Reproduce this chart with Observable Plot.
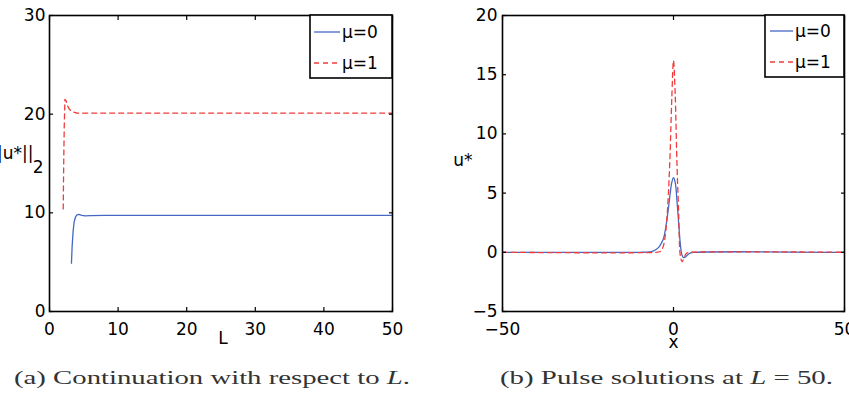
<!DOCTYPE html>
<html>
<head>
<meta charset="utf-8">
<script src="https://cdn.jsdelivr.net/npm/d3@7"></script>
<script src="https://cdn.jsdelivr.net/npm/@observablehq/plot@0.6"></script>
<style>
  body { margin: 0; background: #fff; }
  #fig { position: relative; width: 849px; height: 396px; overflow: hidden; background: #fff; }
  .panel { position: absolute; top: 0; }
  #captions { position: absolute; left: 0; top: 355px; }
</style>
</head>
<body>
<div id="fig">
  <div id="panelA" class="panel" style="left:0px"></div>
  <div id="panelB" class="panel" style="left:430px"></div>
  <svg id="captions" width="849" height="41"></svg>
</div>
<script>
// Series shared by both panels
const seriesNames = ["μ=0", "μ=1"];
const seriesColors = ["#4468c4", "#f03c3c"];
const seriesDash = [null, "5,4"];

// (a) continuation of the L2 norm of the pulse in the domain length L
const contL_mu0 = [3.2, 3.3, 3.45, 3.6, 3.8, 4.0, 4.3, 4.7, 5.2, 6, 8, 50];
const contNorm_mu0 = [4.9, 6.6, 8.2, 9.1, 9.6, 9.8, 9.85, 9.75, 9.7, 9.72, 9.75, 9.75];
const contL_mu1 = [2.0, 2.03, 2.08, 2.15, 2.25, 2.4, 2.6, 2.9, 3.3, 4, 50];
const contNorm_mu1 = [10.4, 12.5, 15.5, 18.8, 21.5, 21.4, 20.9, 20.5, 20.25, 20.1, 20.1];

// (b) pulse profiles u*(x) at L = 50
const pulseX_mu0 = [-50, -10, -7, -6, -5, -4, -3, -2.5, -2, -1.5, -1, -0.5, 0, 0.5, 1, 1.5, 2, 2.5, 3, 3.5, 4, 5, 6, 50];
const pulseU_mu0 = [0, 0, 0.03, 0.1, 0.25, 0.55, 1.1, 1.7, 2.6, 3.7, 4.9, 5.9, 6.3, 5.9, 4.4, 2.5, 0.7, -0.25, -0.45, -0.4, -0.25, -0.05, 0, 0];
const pulseX_mu1 = [-50, -5, -4, -3.5, -3, -2.5, -2, -1.5, -1, -0.5, 0, 0.5, 1, 1.5, 2, 2.5, 3, 3.5, 4, 5, 50];
const pulseU_mu1 = [0, 0, 0.05, 0.2, 0.5, 1.2, 2.6, 4.9, 8.3, 13.0, 16.2, 13.3, 7.6, 3.4, -0.3, -0.8, -0.55, -0.2, -0.05, 0, 0];

// Ticks
const contXTicks = [0, 10, 20, 30, 40, 50];
const contYTicks = [0, 10, 20, 30];
const pulseXTicks = [-50, 0, 50];
const pulseYTicks = [-5, 0, 5, 10, 15, 20];

// Captions
const captionA = ["(a) Continuation with respect to ", "L", "."];
const captionB = ["(b) Pulse solutions at ", "L", " = 50."];

const FONT = "DejaVu Sans";

function axisMarks(xTicks, yTicks, yPad) {
  return [
    Plot.axisX(xTicks, {anchor: "bottom", tickSize: 0, tickPadding: 11, label: null}),
    Plot.axisX(xTicks, {anchor: "bottom", tickSize: -4, tickFormat: () => "", label: null, strokeWidth: 1.2}),
    Plot.axisX(xTicks, {anchor: "top", tickSize: -4, tickFormat: () => "", label: null, strokeWidth: 1.2}),
    Plot.axisY(yTicks, {anchor: "left", tickSize: 0, tickPadding: yPad, label: null}),
    Plot.axisY(yTicks, {anchor: "left", tickSize: -4, tickFormat: () => "", label: null, strokeWidth: 1.2}),
    Plot.axisY(yTicks, {anchor: "right", tickSize: -4, tickFormat: () => "", label: null, strokeWidth: 1.2})
  ];
}

function seriesLines(xs, ys, curve) {
  return xs.map((xv, i) => Plot.line(xv, {
    x: xv, y: ys[i], stroke: seriesColors[i], strokeWidth: 1.3,
    strokeDasharray: seriesDash[i], curve
  }));
}

function addLegend(svg, plot, boxW, boxH, lineX0, lineX1, textX, rowY) {
  const xr = plot.scale("x").range;
  const yr = plot.scale("y").range;
  const right = xr[1], top = yr[1];
  const g = d3.select(svg).append("g")
    .attr("font-family", FONT).attr("font-size", 17).attr("text-anchor", "start");
  g.append("rect")
    .attr("x", right - boxW).attr("y", top)
    .attr("width", boxW).attr("height", boxH)
    .attr("fill", "#fff").attr("stroke", "#000").attr("stroke-width", 1.6);
  seriesNames.forEach((name, i) => {
    const y = top + rowY[i];
    g.append("line")
      .attr("x1", right - boxW + lineX0).attr("x2", right - boxW + lineX1)
      .attr("y1", y).attr("y2", y)
      .attr("stroke", seriesColors[i]).attr("stroke-width", 1.3)
      .attr("stroke-dasharray", seriesDash[i]);
    g.append("text")
      .attr("x", right - boxW + textX).attr("y", y).attr("dy", "0.36em")
      .attr("text-anchor", "start").attr("fill", "#000").text(name);
  });
}

// Panel (a)
const plotA = Plot.plot({
  width: 420, height: 345,
  marginLeft: 49, marginRight: 28, marginTop: 15, marginBottom: 34,
  style: {fontFamily: FONT, fontSize: "17px", color: "#000", background: "transparent", overflow: "visible"},
  x: {domain: [0, 50]},
  y: {domain: [0, 30]},
  marks: [
    ...seriesLines([contL_mu0, contL_mu1], [contNorm_mu0, contNorm_mu1], "linear"),
    ...axisMarks(contXTicks, contYTicks, 4),
    Plot.frame({stroke: "#000", strokeWidth: 1.6}),
    Plot.text(["L"], {frameAnchor: "bottom", dy: 27, dx: 2, lineAnchor: "middle", fill: "#000"}),
    Plot.text(["||u*||"], {frameAnchor: "left", textAnchor: "end", dx: -16, dy: -10, lineAnchor: "middle", fill: "#000"}),
    Plot.text(["2"], {frameAnchor: "left", textAnchor: "end", dx: -6, dy: 4, lineAnchor: "middle", fill: "#000"})
  ]
});
document.getElementById("panelA").appendChild(plotA);
addLegend(plotA, plotA, 82, 63, 4, 30, 32, [17, 48]);

// Panel (b)
const plotB = Plot.plot({
  width: 419, height: 345,
  marginLeft: 72, marginRight: 5, marginTop: 15, marginBottom: 34,
  style: {fontFamily: FONT, fontSize: "17px", color: "#000", background: "transparent", overflow: "visible"},
  x: {domain: [-50, 50]},
  y: {domain: [-5, 20]},
  marks: [
    ...seriesLines([pulseX_mu0, pulseX_mu1], [pulseU_mu0, pulseU_mu1], "catmull-rom"),
    ...axisMarks(pulseXTicks, pulseYTicks, 5),
    Plot.frame({stroke: "#000", strokeWidth: 1.6}),
    Plot.text(["x"], {frameAnchor: "bottom", dy: 31, lineAnchor: "middle", fill: "#000"}),
    Plot.text(["u*"], {frameAnchor: "left", textAnchor: "end", dx: -30, dy: -3, lineAnchor: "middle", fill: "#000"})
  ]
});
document.getElementById("panelB").appendChild(plotB);
addLegend(plotB, plotB, 79, 62, 5, 28, 30, [16, 47]);

// Sub-figure captions
const cap = d3.select("#captions")
  .attr("font-family", "Liberation Serif").attr("font-size", 19).attr("fill", "#333");
function caption(parts, x, width) {
  const t = cap.append("text").attr("x", x).attr("y", 29)
    .attr("textLength", width).attr("lengthAdjust", "spacingAndGlyphs");
  parts.forEach((p, i) => {
    t.append("tspan").attr("font-style", i === 1 ? "italic" : null).text(p);
  });
}
caption(captionA, 14, 396);
caption(captionB, 500, 333);
</script>
</body>
</html>
